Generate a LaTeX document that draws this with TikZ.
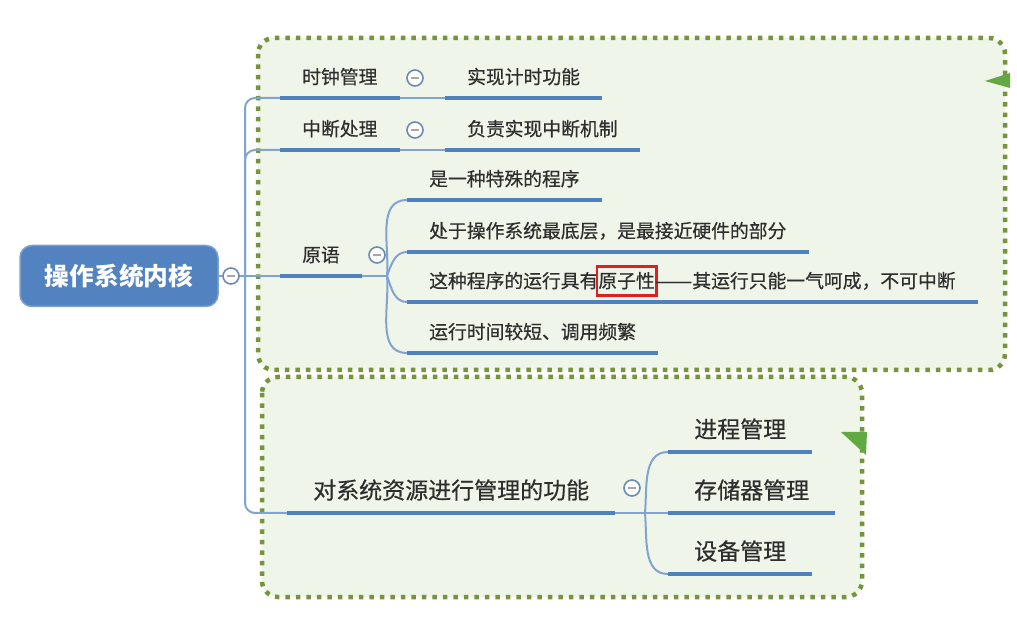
\documentclass[tikz,border=0pt]{standalone}
\usepackage{fontspec}
\setmainfont{Noto Sans CJK SC}
\newfontfamily\topicfont{Noto Sans CJK SC}[FakeBold=0.5]
\definecolor{boxgreen}{HTML}{77933C}
\definecolor{boxfill}{HTML}{F0F5E9}
\definecolor{flaggreen}{HTML}{62A843}
\definecolor{lineblue}{HTML}{4F81BD}
\definecolor{linkblue}{HTML}{7FA3D2}
\definecolor{rootblue}{HTML}{5282BF}
\definecolor{textgray}{HTML}{2E2E2E}
\definecolor{hlred}{HTML}{E0201E}
% red frame over a word, without changing the line width
\newcommand\hlbox[1]{\rlap{\kern-2.8pt\smash{\color{hlred}\setlength\fboxsep{0pt}\setlength\fboxrule{2.8pt}\fbox{\rule[-0.35em]{0pt}{1.41em}\hphantom{#1}}}}#1}
% full width double dash
\newcommand\longdash{\resizebox{2em}{\height}{——}}

\begin{document}
\begin{tikzpicture}[x=1pt,y=1pt,
  boundary/.style={draw=boxgreen, fill=boxfill, line width=4.5, dash pattern=on 4.5 off 6, rounded corners=16},
  flag/.style={fill=flaggreen},
  root/.style={draw=rootblue!75!white, fill=rootblue, line width=1.5, rounded corners=12, minimum width=198, minimum height=61, text=white, font=\fontsize{24.7}{28}\selectfont\bfseries},
  topic/.style={anchor=south west, inner xsep=22, inner ysep=11, text depth=3, text=textgray, font=\topicfont\fontsize{18.8}{22}\selectfont},
  bigtopic/.style={topic, inner xsep=26, font=\topicfont\fontsize{23}{27}\selectfont},
  uline/.style={draw=lineblue, line width=4},
  link/.style={draw=linkblue, line width=2},
  fold/.style={circle, draw=linkblue!85!black, fill=white, line width=1.6, minimum size=16, inner sep=0,
    path picture={\draw[gray!70, line width=1.2] ([xshift=-4]path picture bounding box.center) -- ([xshift=4]path picture bounding box.center);}}]
\useasboundingbox (0,0) rectangle (1017,621);
% boundaries
\draw[boundary] (258,583) rectangle (1005,251);
\draw[boundary] (262,244) rectangle (862,24);
\fill[flag] (985,540) -- (1010,548) -- (1010,533) -- cycle;
\fill[flag] (841,189) -- (867,189) -- (866,166) -- cycle;

% topics
\node[root] (kernel) at (119,345) {操作系统内核};
\node[topic] (clk) at (280,523) {时钟管理};
\node[topic] (clkc) at (445,523) {实现计时功能};
\node[topic] (intr) at (280,471) {中断处理};
\node[topic] (intrc) at (445,471) {负责实现中断机制};
\node[topic] (prim) at (280,345) {原语};
\node[topic] (special) at (407,421) {是一种特殊的程序};
\node[topic] (lowest) at (407,369) {处于操作系统最底层，是最接近硬件的部分};
\node[topic] (atomic) at (407,319) {这种程序的运行具有\hlbox{原子性}\longdash 其运行只能一气呵成，不可中断};
\node[topic] (short) at (407,268) {运行时间较短、调用频繁};
\node[bigtopic] (res) at (287,108) {对系统资源进行管理的功能};
\node[bigtopic] (proc) at (668,169) {进程管理};
\node[bigtopic] (mem) at (668,108) {存储器管理};
\node[bigtopic] (dev) at (668,47) {设备管理};

% connectors
\coordinate (spine) at (245,345);
\coordinate (pfork) at (387,345);
\coordinate (rfork) at (645,108);
\draw[link] (kernel.east) -- (spine);
\draw[link, rounded corners=10] (spine) |- (clk.south west);
\draw[link, rounded corners=10] (spine) |- (intr.south west);
\draw[link] (spine) -- (prim.south west);
\draw[link, rounded corners=10] (spine) |- (res.south west);
\draw[link] (clk.south east) -- (clkc.south west);
\draw[link] (intr.south east) -- (intrc.south west);
\draw[link] (prim.south east) -- (pfork);
\draw[link] (pfork) to[out=85,in=180] (special.south west);
\draw[link] (pfork) to[out=70,in=180] (lowest.south west);
\draw[link] (pfork) to[out=-70,in=180] (atomic.south west);
\draw[link] (pfork) to[out=-85,in=180] (short.south west);
\draw[link] (res.south east) -- (rfork);
\draw[link] (rfork) to[out=85,in=180] (proc.south west);
\draw[link] (rfork) -- (mem.south west);
\draw[link] (rfork) to[out=-85,in=180] (dev.south west);

% underlines
\draw[uline] (clk.south west) -- (clk.south east);
\draw[uline] (clkc.south west) -- (clkc.south east);
\draw[uline] (intr.south west) -- (intr.south east);
\draw[uline] (intrc.south west) -- (intrc.south east);
\draw[uline] (prim.south west) -- (prim.south east);
\draw[uline] (special.south west) -- (special.south east);
\draw[uline] (lowest.south west) -- (lowest.south east);
\draw[uline] (atomic.south west) -- (atomic.south east);
\draw[uline] (short.south west) -- (short.south east);
\draw[uline] (res.south west) -- (res.south east);
\draw[uline] (proc.south west) -- (proc.south east);
\draw[uline] (mem.south west) -- (mem.south east);
\draw[uline] (dev.south west) -- (dev.south east);

% collapse buttons
\node[fold] (kfold) at (231,345) {};
\node[fold] (cfold) at (415,543) {};
\node[fold] (ifold) at (415,491) {};
\node[fold] (pfold) at (377,366) {};
\node[fold] (rfold) at (632,133) {};
\end{tikzpicture}
\end{document}
